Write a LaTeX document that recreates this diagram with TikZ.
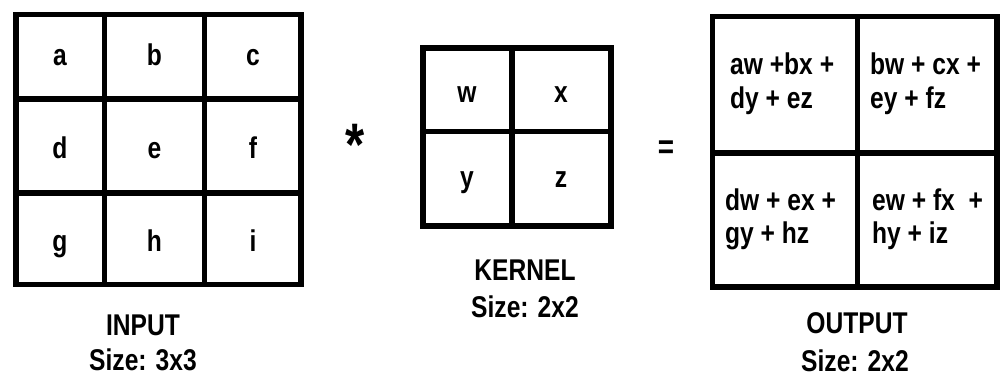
\documentclass[tikz,border=0pt]{standalone}
\usepackage{fontspec}
\setmainfont{Liberation Sans}[FakeStretch=0.82]
\begin{document}
\begin{tikzpicture}[x=1pt,y=-1pt,
  gridline/.style={line width=5.5pt},
  cell/.style={font=\fontsize{30}{34}\selectfont\bfseries, anchor=base, inner sep=0pt},
  sum/.style={font=\fontsize{30}{34}\selectfont\bfseries, anchor=base west, inner sep=0pt},
  caption/.style={font=\fontsize{30}{34}\selectfont\bfseries, anchor=base, inner sep=0pt},
  opsign/.style={font=\bfseries, anchor=base, inner sep=0pt},
]
\useasboundingbox (0,0) rectangle (1000,376);

% ---- input matrix 3x3 ----
\draw[gridline] (16,14.5) rectangle (301,284.5);
\draw[gridline] (104.5,14.5) -- (104.5,284.5) (204.5,14.5) -- (204.5,284.5);
\draw[gridline] (16,99) -- (301,99) (16,193) -- (301,193);
\node[cell] (ia) at (60,65) {a};
\node[cell] (ib) at (154.5,65) {b};
\node[cell] (ic) at (253,65) {c};
\node[cell] (id) at (60,158) {d};
\node[cell] (ie) at (154.5,158) {e};
\node[cell] (if) at (253,158) {f};
\node[cell] (ig) at (60,251) {g};
\node[cell] (ih) at (154.5,251) {h};
\node[cell] (ii) at (253,251) {i};
\node[caption] (inlbl) at (143,335) {INPUT};
\node[caption] (insize) at (143,370) {Size: 3x3};

% ---- convolution sign ----
\node[opsign, font=\fontsize{60}{60}\selectfont\bfseries] (star) at (355,165) {*};

% ---- kernel 2x2 ----
\draw[gridline] (423,48) rectangle (611,226);
\draw[gridline] (512,48) -- (512,226) (423,131.5) -- (611,131.5);
\node[cell] (kw) at (467,102) {w};
\node[cell] (kx) at (561,102) {x};
\node[cell] (ky) at (467,187) {y};
\node[cell] (kz) at (561,187) {z};
\node[caption] (klbl) at (525,280) {KERNEL};
\node[caption] (ksize) at (525,317) {Size: 2x2};

% ---- equals sign ----
\node[opsign, font=\fontsize{34}{34}\selectfont\bfseries] (eq) at (666,158) {=};

% ---- output 2x2 ----
\draw[gridline] (712.5,16.5) rectangle (997,287);
\draw[gridline] (857.5,16.5) -- (857.5,287) (712.5,153) -- (997,153);
\node[sum] (o1a) at (730,74) {aw +bx +};
\node[sum] (o1b) at (730,108) {dy + ez};
\node[sum] (o2a) at (870,74) {bw + cx +};
\node[sum] (o2b) at (870,108) {ey + fz};
\node[sum] (o3a) at (725,210) {dw + ex +};
\node[sum] (o3b) at (725,243) {gy + hz};
\node[sum] (o4a) at (872,210) {ew + fx~ +};
\node[sum] (o4b) at (872,243) {hy + iz};
\node[caption] (olbl) at (857,333) {OUTPUT};
\node[caption] (osize) at (855,371) {Size: 2x2};
\end{tikzpicture}
\end{document}
